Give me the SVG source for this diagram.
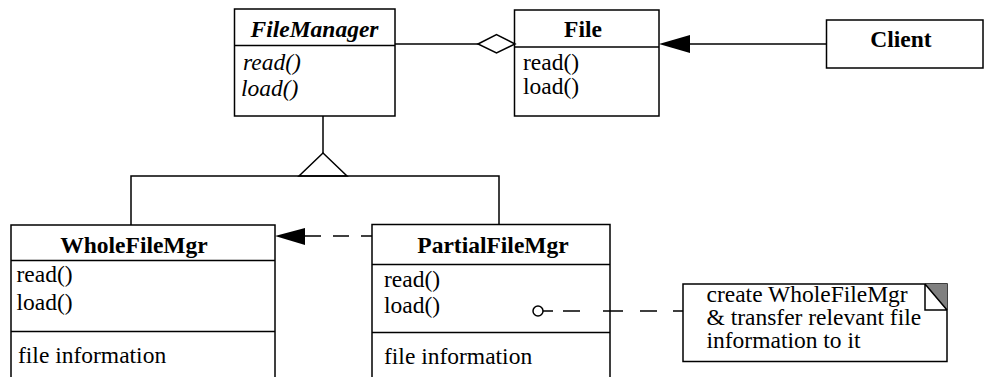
<svg xmlns="http://www.w3.org/2000/svg" width="984" height="377" viewBox="0 0 984 377" font-family="Liberation Serif, Times New Roman, serif">
<style>
.box{fill:#fff;stroke:#000;stroke-width:1.5}
.ln{fill:none;stroke:#000;stroke-width:1.5}
.dash{fill:none;stroke:#000;stroke-width:1.5;stroke-dasharray:16 12}
.t{font-family:'Liberation Serif','Times New Roman',serif;font-size:23.5px;fill:#000}
.b{font-weight:bold}
.i{font-style:italic}
.c{text-anchor:middle}
</style>
<rect width="984" height="377" fill="#fff"/>
<g id="FileManager">
  <rect class="box" x="234.5" y="9" width="160.5" height="107"/>
  <path class="ln" d="M234.5,45.5 H395"/>
  <text class="t b i c" x="314.5" y="36.5">FileManager</text>
  <text class="t i" x="243" y="70">read()</text>
  <text class="t i" x="241" y="95.5">load()</text>
</g>
<g id="File">
  <rect class="box" x="514.5" y="10" width="144.5" height="106"/>
  <path class="ln" d="M514.5,47 H659"/>
  <text class="t b c" x="583" y="36.5">File</text>
  <text class="t" x="523" y="70">read()</text>
  <text class="t" x="523" y="94">load()</text>
</g>
<g id="Client">
  <rect class="box" x="826.5" y="20" width="156.5" height="48"/>
  <text class="t b c" x="901" y="46.5">Client</text>
</g>
<g id="WholeFileMgr">
  <rect class="box" x="11" y="225" width="264" height="160"/>
  <path class="ln" d="M11,260.5 H275 M11,331.5 H275"/>
  <text class="t b c" x="134" y="253">WholeFileMgr</text>
  <text class="t" x="16.5" y="281.5">read()</text>
  <text class="t" x="16.5" y="310">load()</text>
  <text class="t" x="18" y="363">file information</text>
</g>
<g id="PartialFileMgr">
  <rect class="box" x="372" y="224.5" width="238" height="160"/>
  <path class="ln" d="M372,264.5 H610 M372,332.5 H610"/>
  <text class="t b c" x="493" y="252.5">PartialFileMgr</text>
  <text class="t" x="384" y="287">read()</text>
  <text class="t" x="384" y="313">load()</text>
  <text class="t" x="384" y="364">file information</text>
</g>
<g id="Note">
  <rect class="box" x="683" y="284" width="264" height="77.5"/>
  <polygon points="925,284 947,284 947,310" fill="#808080"/>
  <path class="ln" d="M925,284 V310 H947 M925,284 L947,310"/>
  <text class="t" x="706.5" y="301.5">create WholeFileMgr</text>
  <text class="t" x="706.5" y="325">&amp; transfer relevant file</text>
  <text class="t" x="706.5" y="348">information to it</text>
</g>
<g id="connectors">
  <path class="ln" d="M395,44 H478"/>
  <polygon points="478,44 496.5,34.5 515,44 496.5,53" fill="#fff" stroke="#000" stroke-width="1.5"/>
  <path class="ln" d="M826,44 H690"/>
  <polygon points="659,44 690,35 690,53" fill="#000"/>
  <path class="ln" d="M323,116 V153"/>
  <polygon points="323,153 347,176 299,176" fill="#fff" stroke="#000" stroke-width="1.5"/>
  <path class="ln" d="M131,225 V176 H499 V224.5"/>
  <path class="dash" d="M305,236 H372"/>
  <polygon points="275,236 305,228 305,245" fill="#000"/>
  <circle cx="538" cy="311" r="5" fill="#fff" stroke="#000" stroke-width="1.5"/>
  <path class="ln" d="M543,311 H553 M563,311 H580 M603,311 H623 M640,311 H657 M673,311 H683"/>
</g>
</svg>
